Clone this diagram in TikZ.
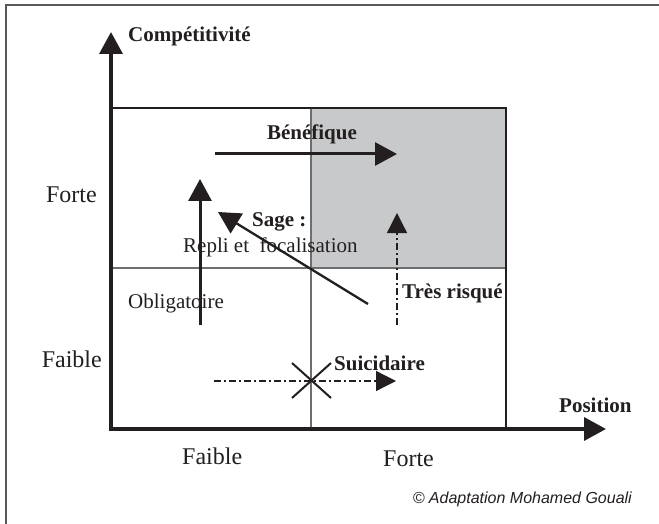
\documentclass[tikz,border=0pt]{standalone}
\usepackage{fontspec}
\setmainfont{Liberation Serif}
\newfontfamily\sansfam{Liberation Sans}
\usetikzlibrary{arrows.meta}
\definecolor{ink}{HTML}{231F20}
\definecolor{quadgray}{HTML}{C8C9CB}
\definecolor{rulec}{HTML}{6D6E70}
\definecolor{framec}{HTML}{58595B}
\begin{document}
\begin{tikzpicture}[x=1pt,y=-1pt,
  txt/.style={inner sep=0pt, text=ink, font=\fontsize{21}{21}\selectfont},
  btxt/.style={inner sep=0pt, text=ink, font=\fontsize{21}{21}\selectfont\bfseries},
  axtxt/.style={inner sep=0pt, text=ink, font=\fontsize{24}{24}\selectfont},
  axis/.style={draw=ink, line width=3.5pt, -{Triangle[length=22pt,width=23pt]}},
  boxedge/.style={draw=ink, line width=2.5pt},
  divider/.style={draw=rulec, line width=1.3pt},
  solidarrow/.style={draw=ink, line width=3pt, -{Triangle[length=22pt,width=23pt]}},
  thinarrow/.style={draw=ink, line width=2.3pt, -{Triangle[length=22pt,width=23pt]}},
  dasharrow/.style={draw=ink, line width=1.3pt, dash pattern=on 7pt off 3pt on 2pt off 3pt, -{Triangle[length=20pt,width=20pt]}},
  cross/.style={draw=ink, line width=2pt}
]
\useasboundingbox (0,0) rectangle (659,524);
\fill[white] (0,0) rectangle (659,524);
% outer frame (only left and top visible)
\draw[framec, line width=1.5pt] (6,530) -- (6,5) -- (665,5);

% shaded quadrant
\fill[quadgray] (311,108) rectangle (506,268);
% dividers
\coordinate (vd1) at (311,108); \coordinate (vd2) at (311,429);
\coordinate (hd1) at (111,268); \coordinate (hd2) at (506,268);
\draw[divider] (vd1) -- (vd2);
\draw[divider] (hd1) -- (hd2);
% box top and right
\coordinate (tl) at (111,108); \coordinate (tr) at (506,108); \coordinate (br) at (506,429);
\draw[boxedge] (tl) -- (tr) -- (br);

% texts
\node[btxt, anchor=base west] (comp) at (128,42) {Compétitivité};
\node[btxt, anchor=base] (bene) at (312,140) {Bénéfique};
\node[btxt, anchor=base west] (sage) at (252,226) {Sage :};
\node[txt, anchor=base west] (repli) at (183,252) {Repli et\ \ focalisation};
\node[txt, anchor=base west] (oblig) at (128,308) {Obligatoire};
\node[btxt, anchor=base west] (tres) at (402,298) {Très risqué};
\node[btxt, anchor=base west] (suic) at (334,370) {Suicidaire};
\node[btxt, anchor=base west] (pos) at (559,412) {Position};
\node[axtxt, anchor=base east] (forteL) at (97,202) {Forte};
\node[axtxt, anchor=base east] (faibleL) at (102,367) {Faible};
\node[axtxt, anchor=base west] (faibleB) at (182,464) {Faible};
\node[axtxt, anchor=base west] (forteB) at (383,466) {Forte};
\node[inner sep=0pt, text=ink, anchor=base east, font=\sansfam\itshape\fontsize{16}{16}\selectfont] (copy) at (632,503) {© Adaptation Mohamed Gouali};

% axes
\coordinate (origin) at (111,431);
\coordinate (ytip) at (111,32);
\coordinate (xorig) at (109,429);
\coordinate (xtip) at (606,429);
\draw[axis] (origin) -- (ytip);
\draw[axis] (xorig) -- (xtip);

% arrows
\coordinate (b1) at (215,154); \coordinate (b2) at (397,154);
\draw[solidarrow] (b1) -- (b2);
\coordinate (o1) at (200,325); \coordinate (o2) at (200,179);
\draw[solidarrow] (o1) -- (o2);
\coordinate (s1) at (368,304); \coordinate (s2) at (218,212);
\draw[thinarrow] (s1) -- (s2);
\coordinate (t1) at (397,325); \coordinate (t2) at (397,213);
\draw[dasharrow] (t1) -- (t2);
\coordinate (u1) at (214,381); \coordinate (u2) at (396,381);
\draw[dasharrow] (u1) -- (u2);
% cross
\coordinate (x1) at (292,363); \coordinate (x2) at (331,398);
\coordinate (x3) at (292,398); \coordinate (x4) at (331,363);
\draw[cross] (x1) -- (x2);
\draw[cross] (x3) -- (x4);
\end{tikzpicture}
\end{document}
